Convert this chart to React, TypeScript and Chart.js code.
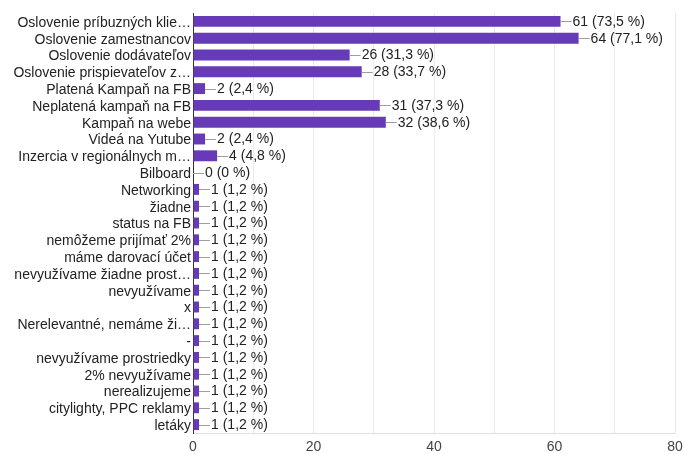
import React, { useEffect, useRef } from "react";
import { Chart, registerables } from "chart.js";

Chart.register(...registerables);

const categories: string[] = [
  "Oslovenie príbuzných klie…",
  "Oslovenie zamestnancov",
  "Oslovenie dodávateľov",
  "Oslovenie prispievateľov z…",
  "Platená Kampaň na FB",
  "Neplatená kampaň na FB",
  "Kampaň na webe",
  "Videá na Yutube",
  "Inzercia v regionálnych m…",
  "Bilboard",
  "Networking",
  "žiadne",
  "status na FB",
  "nemôžeme prijímať 2%",
  "máme darovací účet",
  "nevyužívame žiadne prost…",
  "nevyužívame",
  "x",
  "Nerelevantné, nemáme ži…",
  "-",
  "nevyužívame prostriedky",
  "2% nevyužívame",
  "nerealizujeme",
  "citylighty, PPC reklamy",
  "letáky",
];

const counts: number[] = [61, 64, 26, 28, 2, 31, 32, 2, 4, 0, 1, 1, 1, 1, 1, 1, 1, 1, 1, 1, 1, 1, 1, 1, 1];

const percents: string[] = [
  "73,5", "77,1", "31,3", "33,7", "2,4", "37,3", "38,6", "2,4", "4,8", "0",
  "1,2", "1,2", "1,2", "1,2", "1,2", "1,2", "1,2", "1,2", "1,2", "1,2",
  "1,2", "1,2", "1,2", "1,2", "1,2",
];

const xTicks: number[] = [0, 20, 40, 60, 80];

const FONT = "'Liberation Sans', Arial, sans-serif";

// Draws the short leader line and "count (percent %)" text after each bar.
const valueLabels = {
  id: "valueLabels",
  afterDatasetsDraw(chart: any) {
    const ctx = chart.ctx;
    const meta = chart.getDatasetMeta(0);
    ctx.save();
    ctx.font = `14px ${FONT}`;
    ctx.textBaseline = "middle";
    ctx.textAlign = "left";
    meta.data.forEach((bar: any, i: number) => {
      const x = bar.x;
      const y = Math.round(bar.y) + 0.5;
      ctx.strokeStyle = "#9e9e9e";
      ctx.lineWidth = 1;
      ctx.beginPath();
      ctx.moveTo(x, y);
      ctx.lineTo(x + 11, y);
      ctx.stroke();
      ctx.fillStyle = "#222222";
      ctx.fillText(`${counts[i]} (${percents[i]} %)`, x + 12, bar.y + 0.5);
    });
    ctx.restore();
  },
};

export default function App() {
  const canvasRef = useRef<HTMLCanvasElement | null>(null);

  useEffect(() => {
    document.body.style.margin = "0";
    const canvas = canvasRef.current;
    if (!canvas) return;
    const chart = new Chart(canvas, {
      type: "bar",
      data: {
        labels: categories,
        datasets: [
          {
            data: counts,
            backgroundColor: "#673ab7",
            borderWidth: 0,
            barPercentage: 0.65,
            categoryPercentage: 1,
          },
        ],
      },
      options: {
        indexAxis: "y",
        animation: false,
        responsive: false,
        maintainAspectRatio: false,
        layout: { padding: { top: 13, right: 9, left: 0, bottom: 0 } },
        plugins: {
          legend: { display: false },
          tooltip: { enabled: false },
        },
        scales: {
          x: {
            min: 0,
            max: 80,
            afterFit(scale: any) {
              scale.height = 21;
              scale.paddingLeft = 0;
              scale.paddingRight = 0;
            },
            ticks: {
              stepSize: 10,
              padding: 6,
              color: "#444444",
              font: { size: 14, family: FONT },
              maxRotation: 0,
              autoSkip: false,
              callback: (v: any) => (xTicks.includes(Number(v)) ? String(v) : ""),
            },
            grid: { color: "#ebebeb", drawTicks: false, lineWidth: 1 },
            border: { color: "#e0e0e0", width: 1 },
          },
          y: {
            afterFit(scale: any) {
              scale.width = 193;
              scale.paddingTop = 0;
              scale.paddingBottom = 0;
            },
            ticks: {
              padding: 2,
              labelOffset: 1.5,
              color: "#222222",
              font: { size: 14, family: FONT },
              autoSkip: false,
            },
            grid: { display: false, drawTicks: false },
            border: { color: "#333333", width: 1 },
          },
        },
      },
      plugins: [valueLabels],
    });
    return () => chart.destroy();
  }, []);

  return (
    <div style={{ position: "fixed", left: 0, top: 0, width: 684, height: 454, background: "#fff" }}>
      <canvas ref={canvasRef} width={684} height={454} style={{ display: "block" }} />
    </div>
  );
}
